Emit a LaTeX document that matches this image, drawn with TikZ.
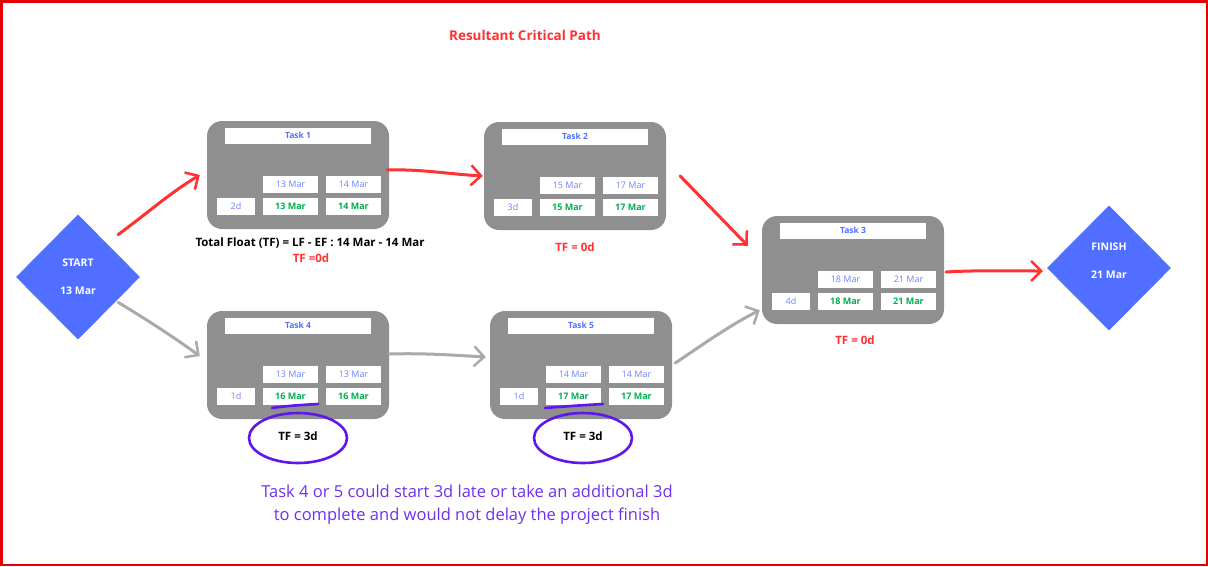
\documentclass[tikz,border=0pt]{standalone}
\usepackage{fontspec}
\setmainfont{Open Sans}
\usetikzlibrary{arrows.meta,shapes.geometric}
\definecolor{boxgray}{RGB}{143,143,143}
\definecolor{tblue}{RGB}{82,113,255}
\definecolor{lblue}{RGB}{110,132,255}
\definecolor{tgreen}{RGB}{0,176,80}
\definecolor{cred}{RGB}{255,49,49}
\definecolor{dblue}{RGB}{80,110,255}
\definecolor{cpurple}{RGB}{94,23,235}
\definecolor{tpurple}{RGB}{112,48,240}
\definecolor{agray}{RGB}{170,170,170}
\definecolor{frame}{RGB}{230,0,0}
\tikzset{
  taskbg/.style={fill=boxgray,draw=none,rounded corners=15pt,minimum width=182pt,minimum height=108pt,inner sep=0pt},
  wbox/.style={fill=white,draw=none,inner sep=0pt,minimum height=17pt,font=\fontsize{9}{10}\selectfont},
  titlebox/.style={wbox,minimum width=146pt,minimum height=16pt,text=tblue,font=\fontsize{8.5}{9}\selectfont\bfseries},
  topbox/.style={wbox,minimum width=55pt,text=lblue},
  botbox/.style={wbox,minimum width=55pt,text=tgreen,font=\fontsize{9}{10}\selectfont\bfseries},
  durbox/.style={wbox,minimum width=38pt,text=lblue},
  dmd/.style={diamond,fill=dblue,draw=none,minimum width=124pt,minimum height=125pt,inner sep=0pt},
  dtext/.style={text=white,font=\fontsize{10.5}{12}\selectfont\bfseries},
  redarrow/.style={draw=cred,line width=3pt,line cap=round,-{Straight Barb[length=10pt,width=20pt,line width=2.5pt]}},
  grayarrow/.style={draw=agray,line width=3pt,line cap=round,-{Straight Barb[length=10pt,width=20pt,line width=2.5pt]}},
  tfred/.style={text=cred,font=\fontsize{11.5}{13}\selectfont\bfseries},
  tfblack/.style={text=black,font=\fontsize{11.5}{13}\selectfont\bfseries},
  ring/.style={draw=cpurple,line width=2.6pt,line cap=round}
}
\newcommand{\taskblock}[9]{%
  \node[taskbg] (#1) at (#2+91,#3+54) {};
  \node[titlebox] (#1-title) at (#2+91,#3+14.5) {#4};
  \node[durbox] (#1-dur) at (#2+29,#3+85.5) {#5};
  \node[topbox] (#1-es) at (#2+83.5,#3+63.5) {#6};
  \node[topbox] (#1-ef) at (#2+146.5,#3+63.5) {#7};
  \node[botbox] (#1-ls) at (#2+83.5,#3+85.5) {#8};
  \node[botbox] (#1-lf) at (#2+146.5,#3+85.5) {#9};
}
\begin{document}
\begin{tikzpicture}[x=1pt,y=-1pt]
\useasboundingbox (0,0) rectangle (1208,566);
\fill[white] (0,0) rectangle (1208,566);
\draw[frame,line width=2.5pt] (1.25,1.25) rectangle (1206.75,564.75);

\node[text=cred,font=\fontsize{13.5}{15}\selectfont\bfseries] (title) at (525,35) {Resultant Critical Path};

\node[dmd] (start) at (78,277) {};
\node[dtext] (startlbl) at (78,263) {START};
\node[dtext] (startdate) at (78,291) {13 Mar};
\node[dmd] (finish) at (1109,268) {};
\node[dtext] (finlbl) at (1109,247) {FINISH};
\node[dtext] (findate) at (1109,275) {21 Mar};

\taskblock{t1}{207}{121}{Task 1}{2d}{13 Mar}{14 Mar}{13 Mar}{14 Mar}
\taskblock{t2}{484}{122}{Task 2}{3d}{15 Mar}{17 Mar}{15 Mar}{17 Mar}
\taskblock{t3}{762}{216}{Task 3}{4d}{18 Mar}{21 Mar}{18 Mar}{21 Mar}
\taskblock{t4}{207}{311}{Task 4}{1d}{13 Mar}{13 Mar}{16 Mar}{16 Mar}
\taskblock{t5}{490}{311}{Task 5}{1d}{14 Mar}{14 Mar}{17 Mar}{17 Mar}

\node[tfblack] (tfdef) at (310,243) {Total Float (TF) = LF - EF : 14 Mar - 14 Mar};
\node[tfred] (tf1) at (311,258) {TF =0d};
\node[tfred] (tf2) at (575,247) {TF = 0d};
\node[tfred] (tf3) at (855,340) {TF = 0d};
\node[tfblack] (tf4) at (298,436) {TF = 3d};
\node[tfblack] (tf5) at (583,436) {TF = 3d};

% hand-drawn rings
\draw[ring] (318,404) .. controls (300,405) and (285,406) .. (272,408);
\draw[ring] (298,438) ellipse [x radius=49, y radius=25];
\draw[ring] (603,404) .. controls (585,405) and (570,406) .. (545,408);
\draw[ring] (583,438) ellipse [x radius=49, y radius=25];

\node[text=tpurple,font=\fontsize{16.5}{23}\selectfont,align=center] (note) at (467,504.5)
  {Task 4 or 5 could start 3d late or take an additional 3d\\to complete and would not delay the project finish};

% critical path arrows
\draw[redarrow] ([xshift=9pt,yshift=11pt]start.north east) .. controls +(30,-22) and +(-30,18) .. ([xshift=-7pt]t1.west);
\draw[redarrow] ([xshift=-2pt,yshift=5pt]t1.east) .. controls +(35,-1) and +(-35,-2) .. ([xshift=-1pt]t2.west);
\draw[redarrow] ([xshift=14pt]t2.east) -- ([xshift=-14pt,yshift=-30pt]t3.north west);
\draw[redarrow] ([xshift=2pt,yshift=-2pt]t3.east) .. controls +(35,-2) and +(-35,0) .. ([xshift=-4pt,yshift=-3pt]finish.west);
% non-critical arrows
\draw[grayarrow] ([xshift=9pt,yshift=6pt]start.south east) .. controls +(30,18) and +(-25,-18) .. ([xshift=-7pt,yshift=9pt]t4.west);
\draw[grayarrow] ([yshift=11pt]t4.east) .. controls +(35,-1) and +(-35,-2) .. ([xshift=-4pt,yshift=8pt]t5.west);
\draw[grayarrow] ([xshift=3pt,yshift=2pt]t5.east) .. controls +(30,-20) and +(-30,15) .. ([xshift=-2pt,yshift=14pt]t3.south west);
\end{tikzpicture}
\end{document}
